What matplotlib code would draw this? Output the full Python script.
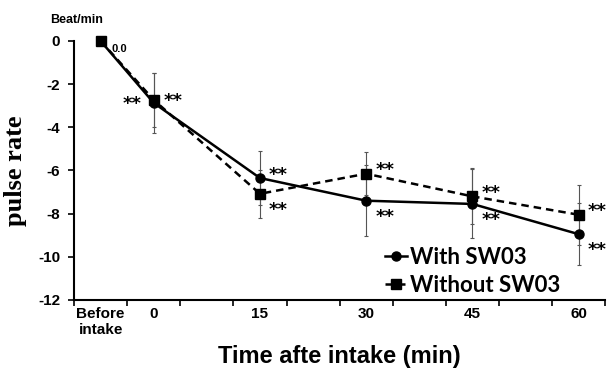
import matplotlib.pyplot as plt

plt.rcParams['axes.unicode_minus'] = False

# categories on the x axis (Excel style: 10 slots, data in some of them)
slot_labels = ['Before\nintake', '0', '', '15', '', '30', '', '45', '', '60']
slots = [0, 1, 3, 5, 7, 9]

with_sw03 = [0.0, -2.87, -6.35, -7.4, -7.55, -8.95]
with_err = [0.0, 1.4, 1.25, 1.65, 1.6, 1.45]
without_sw03 = [0.0, -2.73, -7.08, -6.15, -7.2, -8.05]
without_err = [0.0, 1.25, 1.1, 1.0, 1.3, 1.4]

fig = plt.figure(figsize=(6.07, 3.69), dpi=100)
ax = fig.add_axes([0.122, 0.187, 0.875, 0.702])

x = [s + 0.5 for s in slots]

ax.errorbar(x[1:], with_sw03[1:], yerr=with_err[1:], fmt='none', ecolor='#555555',
            elinewidth=0.8, capsize=1.5, capthick=0.8, clip_on=False)
ax.errorbar(x[1:], without_sw03[1:], yerr=without_err[1:], fmt='none', ecolor='#555555',
            elinewidth=0.8, capsize=1.5, capthick=0.8, clip_on=False)

ax.plot(x, with_sw03, '-', color='black', lw=1.8, marker='o', ms=6.5,
        label='With SW03', clip_on=False, zorder=4)
ax.plot(x, without_sw03, '--', color='black', lw=1.8, marker='s', ms=6.5,
        label='Without SW03', clip_on=False, zorder=4, dashes=(3, 2))

# significance stars
star_kw = dict(fontsize=13, fontweight='bold', family='DejaVu Sans', va='center')
ax.text(x[1] - 0.4, with_sw03[1] - 0.05, '**', ha='center', **star_kw)
ax.text(x[1] + 0.19, without_sw03[1] - 0.05, '**', ha='left', **star_kw)
for i in range(2, 6):
    hi = max(with_sw03[i], without_sw03[i])
    lo = min(with_sw03[i], without_sw03[i])
    ax.text(x[i] + 0.17, hi + 0.15, '**', ha='left', **star_kw)
    ax.text(x[i] + 0.17, lo - 0.75, '**', ha='left', **star_kw)

ax.text(x[0] + 0.2, -0.35, '0.0', fontsize=8, fontweight='bold', ha='left', va='center',
        family='Liberation Sans')

ax.set_xlim(0, 10)
ax.set_ylim(-12, 0)
ax.set_yticks(range(-12, 1, 2))
ax.set_xticks(range(0, 11))
ax.set_xticklabels([])
ax.set_xticks([s + 0.5 for s in range(10)], minor=True)
ax.set_xticklabels(slot_labels, minor=True)
ax.tick_params(axis='x', which='minor', length=0, pad=5)
ax.tick_params(axis='x', which='major', length=4, width=1.2)
ax.tick_params(axis='y', length=4, width=1.2, pad=6)
for lab in ax.get_xticklabels(minor=True) + ax.get_yticklabels():
    lab.set_fontweight('bold')
    lab.set_fontsize(11)
    lab.set_family('Liberation Sans')

ax.spines['top'].set_visible(False)
ax.spines['right'].set_visible(False)
ax.spines['left'].set_linewidth(1.5)
ax.spines['bottom'].set_linewidth(1.5)

ax.set_xlabel('Time afte intake (min)', fontsize=17, fontweight='bold',
              family='Liberation Sans', labelpad=6)
ax.set_ylabel('pulse rate', fontsize=19, fontweight='bold', family='Liberation Serif',
              labelpad=8)
fig.text(0.082, 0.945, 'Beat/min', fontsize=9, fontweight='bold', family='Liberation Sans',
         ha='left', va='center')

leg = ax.legend(loc='lower right', bbox_to_anchor=(0.937, -0.027), frameon=False,
                prop={'family': 'Lato', 'weight': 'bold', 'size': 16},
                handlelength=1.0, handletextpad=0.15, labelspacing=0.3, borderpad=0)

fig.savefig('out.png', dpi=100)
